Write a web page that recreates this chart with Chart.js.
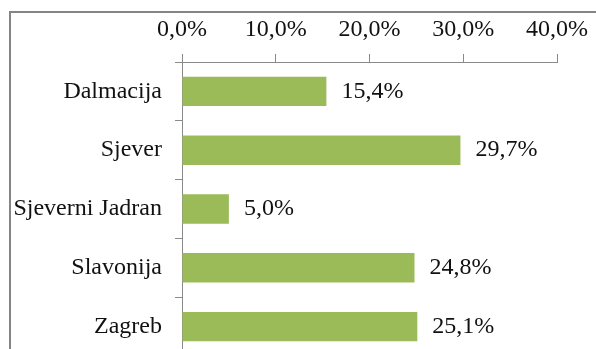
<!DOCTYPE html>
<html>
<head>
<meta charset="utf-8">
<script src="https://cdn.jsdelivr.net/npm/chart.js@4"></script>
<style>
  html, body { margin: 0; padding: 0; background: #fff; overflow: hidden; }
  canvas { display: block; }
</style>
</head>
<body>
<canvas id="graf" width="596" height="360"></canvas>
<script>
const regije = ["Dalmacija", "Sjever", "Sjeverni Jadran", "Slavonija", "Zagreb"];
const udjeli = [15.4, 29.7, 5.0, 24.8, 25.1];
const osX = [0, 10, 20, 30, 40];

const FONT = "'Liberation Serif', 'Times New Roman', serif";
const SIVA = "#8a8a8a";

function postotak(v) {
  return v.toFixed(1).replace(".", ",") + "%";
}

/* okvir oko grafikona */
const okvir = {
  id: "okvir",
  beforeDraw(chart) {
    const ctx = chart.ctx;
    ctx.save();
    ctx.strokeStyle = "#858585";
    ctx.lineWidth = 2;
    ctx.beginPath();
    ctx.moveTo(10, chart.height + 5);
    ctx.lineTo(10, 12);
    ctx.lineTo(chart.width + 5, 12);
    ctx.stroke();
    ctx.restore();
  }
};

/* vrijednosti desno od stupaca */
const oznake = {
  id: "oznake",
  afterDatasetsDraw(chart) {
    const ctx = chart.ctx;
    const meta = chart.getDatasetMeta(0);
    ctx.save();
    ctx.font = "24px " + FONT;
    ctx.fillStyle = "#111";
    ctx.textAlign = "left";
    ctx.textBaseline = "middle";
    meta.data.forEach((bar, i) => {
      ctx.fillText(postotak(udjeli[i]), bar.x + 15, bar.y);
    });
    ctx.restore();
  }
};

new Chart(document.getElementById("graf"), {
  type: "bar",
  data: {
    labels: regije,
    datasets: [{
      data: udjeli,
      backgroundColor: "#9bbb59",
      borderWidth: 0,
      categoryPercentage: 1,
      barPercentage: 0.5
    }]
  },
  options: {
    indexAxis: "y",
    responsive: false,
    animation: false,
    layout: { padding: { top: 0, right: 39, bottom: 4, left: 0 } },
    plugins: {
      legend: { display: false },
      tooltip: { enabled: false }
    },
    scales: {
      x: {
        position: "top",
        min: osX[0],
        max: osX[osX.length - 1],
        afterBuildTicks: s => { s.ticks = osX.map(v => ({ value: v })); },
        afterFit: s => { s.height = 62; s.paddingLeft = 0; s.paddingRight = 0; },
        ticks: {
          padding: 10,
          color: "#111",
          font: { family: FONT, size: 24 },
          callback: v => postotak(v)
        },
        grid: { drawOnChartArea: false, drawTicks: true, tickLength: 8, color: SIVA },
        border: { display: true, color: SIVA }
      },
      y: {
        afterFit: s => { s.width = 182; s.paddingTop = 0; s.paddingBottom = 0; },
        ticks: {
          padding: 13,
          color: "#111",
          font: { family: FONT, size: 24 }
        },
        grid: { drawOnChartArea: false, drawTicks: true, tickLength: 7, offset: true, color: SIVA },
        border: { display: true, color: SIVA }
      }
    }
  },
  plugins: [okvir, oznake]
});
</script>
</body>
</html>
